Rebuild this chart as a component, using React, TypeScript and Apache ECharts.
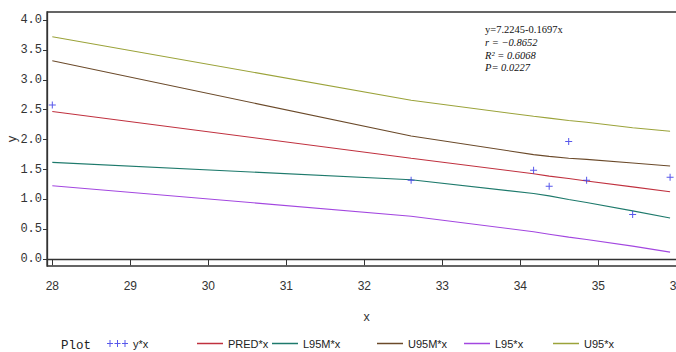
import React, { useEffect, useRef } from "react";
import * as echarts from "echarts";

// ---- data ----
const xVals = [28, 32.6, 34.17, 34.37, 34.62, 34.85, 35.44, 35.92];
const yObs = [2.58, 1.32, 1.49, 1.22, 1.97, 1.32, 0.75, 1.37];
const pred = [2.47, 1.69, 1.43, 1.39, 1.35, 1.31, 1.21, 1.13];
const l95m = [1.62, 1.33, 1.1, 1.06, 1.0, 0.95, 0.81, 0.69];
const u95m = [3.32, 2.06, 1.75, 1.72, 1.69, 1.67, 1.61, 1.56];
const l95 = [1.23, 0.72, 0.46, 0.42, 0.37, 0.33, 0.22, 0.12];
const u95 = [3.72, 2.66, 2.39, 2.36, 2.32, 2.29, 2.2, 2.14];

const xTicks = [28, 29, 30, 31, 32, 33, 34, 35, 36];
const yTicks = [0, 0.5, 1, 1.5, 2, 2.5, 3, 3.5, 4];

const seriesNames = ["y*x", "PRED*x", "L95M*x", "U95M*x", "L95*x", "U95*x"];
const annotation = ["y=7.2245-0.1697x", "r = \u22120.8652", "R\u00B2 = 0.6068", "P= 0.0227"];

const colors = {
  pts: "#2E2EE6",
  pred: "#C0313F",
  l95m: "#1E7A6C",
  u95m: "#6B4A2A",
  l95: "#A347E0",
  u95: "#9BA33A",
};

const plusSymbol = "path://M0,3H7V4H0Z M3,0H4V7H3Z";
const plus3Icon =
  "path://M0,3H6V4H0Z M2.5,0H3.5V7H2.5Z M7.5,3H13.5V4H7.5Z M10,0H11V7H10Z M15,3H21V4H15Z M17.5,0H18.5V7H17.5Z";

const sans = "'Liberation Sans Narrow', 'Arial Narrow', 'Liberation Sans', Arial, sans-serif";
const mono = "'Liberation Mono', 'DejaVu Sans Mono', monospace";

function pairs(ys: number[]) {
  return xVals.map((x, i) => [x, ys[i]]);
}

export default function App() {
  const ref = useRef<HTMLDivElement>(null);
  useEffect(() => {
    if (!ref.current) return;
    const chart = echarts.init(ref.current, null, { renderer: "svg" });
    const lineSeries = (name: string, data: number[], color: string) => ({
      name,
      type: "line",
      data: pairs(data),
      symbol: "none",
      color,
      lineStyle: { color, width: 1.1 },
      z: 2,
    });
    const legendItem = (name: string, left: number, isPts = false) => ({
      data: [{ name, icon: isPts ? plus3Icon : "rect" }],
      left,
      top: 338,
      padding: 0,
      itemWidth: isPts ? 21 : 26,
      itemHeight: isPts ? 7 : 1.5,
      itemGap: 0,
      selectedMode: false,
      itemStyle: { borderWidth: 0 },
      textStyle: { fontFamily: sans, fontSize: 11, color: "#222" },
    });
    chart.setOption({
      animation: false,
      backgroundColor: "#fff",
      grid: {
        left: 47,
        right: -10,
        top: 12,
        bottom: 86,
        containLabel: false,
        outerBoundsMode: "none",
        show: true,
        borderColor: "#333",
        borderWidth: 1.3,
      },
      xAxis: {
        type: "value",
        min: 27.932,
        max: 36.124,
        name: "x",
        nameLocation: "middle",
        nameGap: 44,
        nameMoveOverlap: false,
        nameTextStyle: { fontFamily: sans, fontSize: 12.5, color: "#333" },
        axisLine: { show: true, lineStyle: { color: "#333", width: 1.3 } },
        axisTick: { show: true, length: 6, customValues: xTicks, lineStyle: { color: "#333" } },
        axisLabel: {
          customValues: xTicks,
          margin: 14,
          fontFamily: sans,
          fontSize: 12,
          color: "#333",
        },
        splitLine: { show: false },
      },
      yAxis: {
        type: "value",
        min: -0.112,
        max: 4.134,
        name: "y",
        nameLocation: "middle",
        nameGap: 29,
        nameMoveOverlap: false,
        nameTextStyle: { fontFamily: sans, fontSize: 13, color: "#333" },
        axisLine: { show: true, lineStyle: { color: "#333", width: 1.3 } },
        axisTick: { show: true, length: 4, customValues: yTicks, lineStyle: { color: "#333" } },
        axisLabel: {
          customValues: yTicks,
          margin: 5,
          fontFamily: mono,
          fontSize: 12,
          color: "#333",
          formatter: (v: number) => v.toFixed(1),
        },
        splitLine: { show: false },
      },
      legend: [
        legendItem(seriesNames[0], 107, true),
        legendItem(seriesNames[1], 197),
        legendItem(seriesNames[2], 272),
        legendItem(seriesNames[3], 377),
        legendItem(seriesNames[4], 464),
        legendItem(seriesNames[5], 553),
      ],
      graphic: [
        {
          type: "text",
          left: 61,
          top: 339,
          style: { text: "Plot", font: `12.5px ${mono}`, fill: "#222" },
        },
        {
          type: "group",
          left: 485,
          top: 24,
          children: annotation.map((t, i) => ({
            type: "text",
            x: 0,
            y: i * 12.8,
            style: {
              text: t,
              font: `${i === 0 ? "normal" : "italic"} 10.5px 'Liberation Serif', 'Times New Roman', serif`,
              fill: "#111",
            },
          })),
        },
      ],
      series: [
        lineSeries(seriesNames[1], pred, colors.pred),
        lineSeries(seriesNames[2], l95m, colors.l95m),
        lineSeries(seriesNames[3], u95m, colors.u95m),
        lineSeries(seriesNames[4], l95, colors.l95),
        lineSeries(seriesNames[5], u95, colors.u95),
        {
          name: seriesNames[0],
          type: "scatter",
          data: pairs(yObs),
          symbol: plusSymbol,
          symbolSize: 7,
          color: colors.pts,
          itemStyle: { color: colors.pts },
          z: 3,
        },
      ],
    });
    return () => chart.dispose();
  }, []);
  return (
    <div
      ref={ref}
      style={{ position: "fixed", left: 0, top: 0, width: 676, height: 352 }}
    />
  );
}
